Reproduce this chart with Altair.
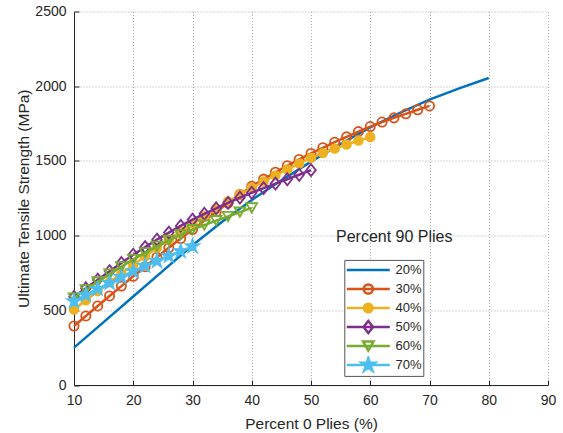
import altair as alt
import pandas as pd

FONT = "Liberation Sans"
TEXT = "#262626"

series_names = ["20%", "30%", "40%", "50%", "60%", "70%"]
series_colors = ["#0072BD", "#D95319", "#EDB120", "#7E2F8E", "#77AC30", "#4DBEEE"]

# Percent 0 plies (x) and ultimate tensile strength in MPa (y), one pair per series
pct0_20 = [10, 15, 20, 25, 30, 35, 40, 45, 50, 55, 60, 65, 70, 75, 80]
uts_20 = [250, 421, 592, 764, 935, 1092, 1238, 1370, 1495, 1614, 1725, 1822, 1910, 1985, 2055]

pct0_30 = list(range(10, 72, 2))
uts_30 = [395, 462, 529, 596, 662, 728, 792, 855, 918, 980,
          1040, 1100, 1160, 1218, 1275, 1330, 1378, 1424, 1468, 1510,
          1550, 1588, 1625, 1661, 1696, 1730, 1760, 1788, 1815, 1842, 1868]

pct0_40 = list(range(10, 62, 2))
uts_40 = [505, 567, 628, 688, 747, 805, 862, 918, 973, 1027,
          1080, 1130, 1180, 1228, 1275, 1320, 1362, 1403, 1443, 1482,
          1520, 1552, 1582, 1610, 1636, 1660]

pct0_50 = list(range(10, 52, 2))
uts_50 = [590, 648, 705, 762, 817, 872, 923, 973, 1020, 1065,
          1107, 1146, 1183, 1219, 1254, 1287, 1318, 1348, 1377, 1407, 1438]

pct0_60 = list(range(10, 42, 2))
uts_60 = [582, 637, 690, 742, 792, 840, 885, 928, 968, 1005,
          1040, 1070, 1100, 1128, 1157, 1186]

pct0_70 = list(range(10, 32, 2))
uts_70 = [560, 603, 643, 683, 723, 762, 798, 830, 864, 896, 928]

x_ticks = list(range(10, 91, 10))
y_ticks = list(range(0, 2501, 500))

all_x = [pct0_20, pct0_30, pct0_40, pct0_50, pct0_60, pct0_70]
all_y = [uts_20, uts_30, uts_40, uts_50, uts_60, uts_70]

rows = []
for name, xs, ys in zip(series_names, all_x, all_y):
    for xv, yv in zip(xs, ys):
        rows.append({"series": name, "pct0": xv, "uts": yv})
df = pd.DataFrame(rows)

# marker style per series: (shape, size, filled)
STAR = ("M0,-1L0.223,-0.307L0.951,-0.309L0.361,0.117L0.588,0.809L0,0.38"
        "L-0.588,0.809L-0.361,0.117L-0.951,-0.309L-0.223,-0.307Z")
DIAMOND = "M0,-1L0.8,0L0,1L-0.8,0Z"
marker_style = {
    "30%": ("circle", 85, False),
    "40%": ("circle", 80, True),
    "50%": (DIAMOND, 144, False),
    "60%": ("triangle-down", 115, False),
    "70%": (STAR, 215, True),
}


def circle_path(r):
    return f"M{r},0A{r},{r},0,1,1,{-r},0A{r},{r},0,1,1,{r},0Z"


def star_path(k):
    pts = [(0, -1), (0.223, -0.307), (0.951, -0.309), (0.361, 0.117), (0.588, 0.809),
           (0, 0.38), (-0.588, 0.809), (-0.361, 0.117), (-0.951, -0.309), (-0.223, -0.307)]
    cmds = [f"{'M' if i == 0 else 'L'}{round(px * k, 3)},{round(py * k, 3)}"
            for i, (px, py) in enumerate(pts)]
    return "".join(cmds) + "Z"


# legend samples: a line with the series marker drawn across it;
# solid markers are built from nested outlines
BOX = "M-1.123,-0.365M2.547,0.365"
LINE = "M-1,0H1"
legend_paths = {
    "20%": BOX + LINE,
    "30%": BOX + LINE + circle_path(0.214),
    "40%": BOX + LINE + "".join(circle_path(r) for r in (0.2, 0.15, 0.1, 0.05, 0.01)),
    "50%": BOX + LINE + "M0,-0.28L0.224,0L0,0.28L-0.224,0Z",
    "60%": BOX + LINE + "M0,0.212L-0.244,-0.212L0.244,-0.212Z",
    "70%": BOX + LINE + "".join(star_path(k) for k in (0.326, 0.22, 0.12, 0.04)),
}
shape_expr = ""
for name in series_names[:-1]:
    shape_expr += f"datum.value === '{name}' ? '{legend_paths[name]}' : "
shape_expr += f"'{legend_paths[series_names[-1]]}'"

fill_expr = ("datum.value === '40%' || datum.value === '70%' ? "
             "scale('color', datum.value) : 'transparent'")

legend_def = alt.Legend(
    title=None,
    orient="none",
    legendX=270.3,
    legendY=248.4,
    padding=1,
    strokeColor="#555555",
    fillColor="white",
    symbolType={"expr": shape_expr},
    symbolFillColor={"expr": fill_expr},
    symbolSize=1849,
    symbolStrokeWidth=2.5,
    symbolOpacity=1,
    clipHeight=18.2,
    labelFont=FONT,
    labelFontSize=13,
    labelColor=TEXT,
    labelOffset=4.3,
    rowPadding=0,
)

color_scale = alt.Scale(domain=series_names, range=series_colors)

x_enc = alt.X(
    "pct0:Q",
    scale=alt.Scale(domain=[10, 90], nice=False, zero=False),
    axis=alt.Axis(
        values=x_ticks, format="d", title="Percent 0 Plies (%)",
        tickSize={"expr": "-5"}, labelPadding=13, labelFlush=False,
        labelOverlap=False, titlePadding=9,
    ),
)
y_enc = alt.Y(
    "uts:Q",
    scale=alt.Scale(domain=[0, 2500], nice=False),
    axis=alt.Axis(
        values=y_ticks, format="d", title="Ultimate Tensile Strength (MPa)",
        tickSize={"expr": "-5"}, labelPadding=13, labelOverlap=False,
        titlePadding=3,
    ),
)
color_enc = alt.Color("series:N", scale=color_scale, legend=legend_def)

base = alt.Chart(df)
layers = []
for name, col in zip(series_names, series_colors):
    sub = base.transform_filter(alt.datum.series == name)
    layers.append(
        sub.mark_line(strokeWidth=2.5).encode(x=x_enc, y=y_enc, color=color_enc)
    )
    if name in marker_style:
        shape, size, filled = marker_style[name]
        if filled:
            pts = sub.mark_point(shape=shape, size=size, filled=True,
                                 fill=col, stroke=col,
                                 strokeWidth=1.5, opacity=1).encode(
                x=x_enc, y=y_enc)
        else:
            pts = sub.mark_point(shape=shape, size=size, filled=False,
                                 strokeWidth=1.8, opacity=1).encode(
                x=x_enc, y=y_enc, color=color_enc)
        layers.append(pts)

chart = alt.layer(*layers).properties(
    width=474,
    height=373.5,
    autosize=alt.AutoSizeParams(type="none"),
    padding={"left": 74, "top": 11.5, "right": 15, "bottom": 48},
    title=alt.TitleParams(
        "Percent 90 Plies", anchor="start", frame="group", orient="top",
        offset=0, dx=262, dy=253.5, fontSize=16, font=FONT,
        fontWeight="normal", color=TEXT, baseline="alphabetic",
    ),
).configure_view(stroke=None).configure_axis(
    labelFont=FONT, labelFontSize=14, labelColor=TEXT,
    titleFont=FONT, titleFontSize=15.5, titleFontWeight="normal", titleColor=TEXT,
    domainColor=TEXT, domainWidth=1, tickColor=TEXT, tickWidth=1,
    grid=True, gridColor="#a8a8a8", gridDash=[1, 2], gridWidth=1,
)

chart.save("out.html", embed_options={"renderer": "svg", "actions": False})
